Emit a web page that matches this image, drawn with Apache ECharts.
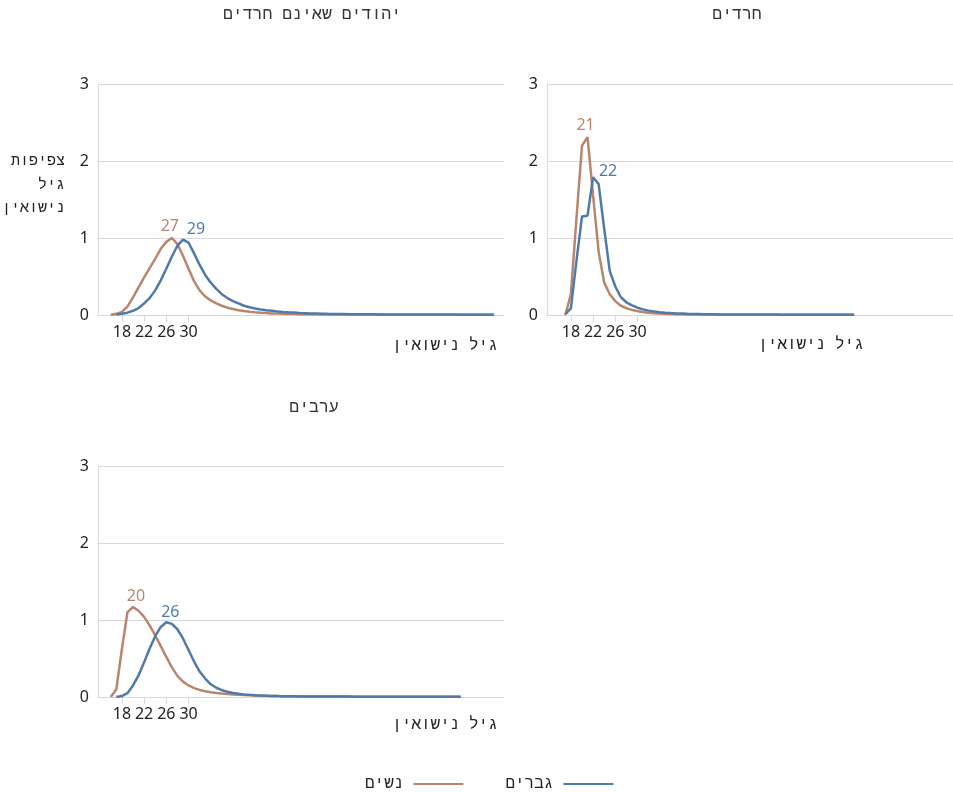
<!DOCTYPE html>
<html>
<head>
<meta charset="utf-8">
<script src="https://cdn.jsdelivr.net/npm/echarts@6/dist/echarts.min.js"></script>
<style>html,body{margin:0;padding:0;background:#fff}#c{width:953px;height:792px}</style>
</head>
<body>
<div id="c"></div>
<script>
// Panel titles
const panelTitles = ['יהודים שאינם חרדים', 'חרדים', 'ערבים'];
const seriesNames = ['נשים', 'גברים'];
const xTickValues = [18, 22, 26, 30];
const axisXName = 'גיל נישואין';
const axisYNameLines = ['צפיפות', 'גיל', 'נישואין'];

// Non-Haredi Jews: women from age 16, men from age 17
const jewsWomenStart = 16;
const jewsWomen = [0, 0.015, 0.04, 0.11, 0.23, 0.36, 0.49, 0.61, 0.73, 0.86, 0.95, 1.0, 0.92, 0.77, 0.6, 0.44, 0.32, 0.24, 0.19, 0.15,
  0.12, 0.095, 0.077, 0.063, 0.051, 0.042, 0.035, 0.029, 0.025, 0.021, 0.018, 0.016, 0.014, 0.012, 0.011, 0.010, 0.009, 0.009, 0.008, 0.008,
  0.007, 0.007, 0.006, 0.006, 0.006, 0.005, 0.005, 0.005, 0.005, 0.004, 0.004, 0.004, 0.004, 0.004, 0.003, 0.003, 0.003, 0.003, 0.003, 0.003,
  0.002, 0.002, 0.002, 0.002, 0.002, 0.002, 0.002, 0.002, 0.002, 0.002];
const jewsMenStart = 17;
const jewsMen = [0.005, 0.015, 0.03, 0.055, 0.09, 0.15, 0.22, 0.32, 0.45, 0.6, 0.76, 0.9, 0.98, 0.94, 0.8, 0.65, 0.52, 0.42, 0.34, 0.27,
  0.22, 0.18, 0.15, 0.12, 0.1, 0.085, 0.072, 0.062, 0.055, 0.047, 0.04, 0.035, 0.031, 0.027, 0.024, 0.021, 0.019, 0.017, 0.015, 0.014,
  0.013, 0.012, 0.011, 0.010, 0.010, 0.009, 0.009, 0.008, 0.008, 0.008, 0.007, 0.007, 0.007, 0.006, 0.006, 0.006, 0.006, 0.005, 0.005, 0.005,
  0.005, 0.005, 0.004, 0.004, 0.004, 0.004, 0.004, 0.004, 0.004];

// Haredim
const haredWomenStart = 17;
const haredWomen = [0, 0.27, 1.25, 2.2, 2.31, 1.55, 0.82, 0.42, 0.27, 0.18, 0.12, 0.088, 0.066, 0.05, 0.038, 0.029, 0.023, 0.018, 0.015, 0.012,
  0.010, 0.009, 0.008, 0.007, 0.006, 0.006, 0.005, 0.005, 0.004, 0.004, 0.004, 0.003, 0.003, 0.003, 0.003, 0.003, 0.002, 0.002, 0.002, 0.002,
  0.002, 0.002, 0.002, 0.002, 0.002, 0.002, 0.002, 0.002, 0.002, 0.002, 0.002, 0.002, 0.002];
const haredMenStart = 17;
const haredMen = [0.01, 0.085, 0.7, 1.28, 1.29, 1.79, 1.70, 1.12, 0.57, 0.37, 0.23, 0.165, 0.125, 0.095, 0.073, 0.057, 0.046, 0.037, 0.03, 0.025,
  0.021, 0.018, 0.015, 0.013, 0.012, 0.011, 0.010, 0.009, 0.008, 0.008, 0.007, 0.007, 0.006, 0.006, 0.006, 0.005, 0.005, 0.005, 0.005, 0.004,
  0.004, 0.004, 0.004, 0.004, 0.004, 0.004, 0.003, 0.003, 0.003, 0.003, 0.003, 0.003, 0.003];

// Arabs
const arabWomenStart = 16;
const arabWomen = [0, 0.1, 0.62, 1.1, 1.17, 1.12, 1.04, 0.93, 0.8, 0.66, 0.52, 0.385, 0.275, 0.2, 0.15, 0.115, 0.092, 0.075, 0.063, 0.053,
  0.045, 0.039, 0.033, 0.029, 0.025, 0.022, 0.019, 0.017, 0.015, 0.013, 0.012, 0.011, 0.010, 0.009, 0.008, 0.008, 0.007, 0.007, 0.006, 0.006,
  0.005, 0.005, 0.005, 0.004, 0.004, 0.004, 0.004, 0.003, 0.003, 0.003, 0.003, 0.003, 0.003, 0.002, 0.002, 0.002, 0.002, 0.002, 0.002, 0.002,
  0.002, 0.002, 0.002, 0.002];
const arabMenStart = 17;
const arabMen = [0, 0.012, 0.05, 0.15, 0.28, 0.45, 0.63, 0.79, 0.91, 0.97, 0.95, 0.88, 0.76, 0.61, 0.46, 0.33, 0.24, 0.165, 0.12, 0.088,
  0.068, 0.052, 0.042, 0.034, 0.028, 0.023, 0.019, 0.016, 0.014, 0.012, 0.011, 0.010, 0.009, 0.008, 0.008, 0.007, 0.007, 0.006, 0.006, 0.005,
  0.005, 0.005, 0.005, 0.004, 0.004, 0.004, 0.004, 0.004, 0.003, 0.003, 0.003, 0.003, 0.003, 0.003, 0.003, 0.003, 0.003, 0.003, 0.002, 0.002,
  0.002, 0.002, 0.002];

// Peak ages (labels)
const peakAges = { jewsWomen: 27, jewsMen: 29, haredWomen: 21, haredMen: 22, arabWomen: 20, arabMen: 26 };

const COLOR_W = '#b8866f';
const COLOR_M = '#4f7aab';
const FONT = '"Noto Sans", "DejaVu Sans", sans-serif';
const HEB = '"Liberation Mono", "DejaVu Sans Mono", monospace';
const GRID_C = '#d9d9d9';

function build(start, vals, peak, color, offset) {
  return vals.map((v, i) => {
    const age = start + i;
    if (age === peak) {
      return { value: [age, v], label: { show: true, position: 'top', distance: 4, offset: offset, formatter: String(peak), color: color, fontSize: 16, fontFamily: FONT } };
    }
    return [age, v];
  });
}

const grids = [
  { left: 98, top: 84, width: 406, height: 231 },
  { left: 547, top: 84, width: 406, height: 231 },
  { left: 98, top: 466, width: 406, height: 231 }
];

const xAxes = grids.map((g, i) => ({
  type: 'value', gridIndex: i, min: 13.7, max: 86.8,
  axisLine: { show: true, lineStyle: { color: GRID_C, width: 1 } },
  axisTick: { show: true, customValues: xTickValues, length: 7, lineStyle: { color: GRID_C } },
  axisLabel: { customValues: xTickValues, fontSize: 16, color: '#222', fontFamily: FONT, margin: 9 },
  splitLine: { show: false }
}));
const yAxes = grids.map((g, i) => ({
  type: 'value', gridIndex: i, min: 0, max: 3, interval: 1,
  axisLine: { show: true, lineStyle: { color: GRID_C, width: 1 } },
  axisTick: { show: false },
  axisLabel: { fontSize: 16, color: '#222', fontFamily: FONT, margin: 9 },
  splitLine: { show: true, lineStyle: { color: GRID_C, width: 1 } }
}));

function line(name, idx, data, color) {
  return { name: name, type: 'line', xAxisIndex: idx, yAxisIndex: idx, data: data, showSymbol: true, showAllSymbol: true, symbol: 'circle', symbolSize: 0,
    lineStyle: { color: color, width: 2.5 }, itemStyle: { color: color }, label: { show: false }, emphasis: { disabled: true }, animation: false, z: name === seriesNames[1] ? 3 : 2 };
}

const series = [
  line(seriesNames[0], 0, build(jewsWomenStart, jewsWomen, peakAges.jewsWomen, COLOR_W, [-2, 0]), COLOR_W),
  line(seriesNames[1], 0, build(jewsMenStart, jewsMen, peakAges.jewsMen, COLOR_M, [13, 2]), COLOR_M),
  line(seriesNames[0], 1, build(haredWomenStart, haredWomen, peakAges.haredWomen, COLOR_W, [-2, 0]), COLOR_W),
  line(seriesNames[1], 1, build(haredMenStart, haredMen, peakAges.haredMen, COLOR_M, [15, 6]), COLOR_M),
  line(seriesNames[0], 2, build(arabWomenStart, arabWomen, peakAges.arabWomen, COLOR_W, [3, 2]), COLOR_W),
  line(seriesNames[1], 2, build(arabMenStart, arabMen, peakAges.arabMen, COLOR_M, [4, 2]), COLOR_M)
];

function txt(s, x, y, align, size, color, family) {
  return { type: 'text', x: x, y: y, style: { text: s, textAlign: align, textVerticalAlign: 'middle', fontSize: size, fill: color, fontFamily: family || HEB } };
}

const graphics = [
  txt(panelTitles[0], 312, 15, 'center', 16.5, '#333'),
  txt(panelTitles[1], 737, 15, 'center', 16.5, '#333'),
  txt(panelTitles[2], 314, 408, 'center', 16.5, '#333'),
  txt(axisXName, 445, 346, 'center', 16, '#222'),
  txt(axisXName, 811, 345, 'center', 16, '#222'),
  txt(axisXName, 445, 725, 'center', 16, '#222'),
  txt(axisYNameLines[0], 65, 161.5, 'right', 15, '#222'),
  txt(axisYNameLines[1], 65, 185, 'right', 15, '#222'),
  txt(axisYNameLines[2], 65, 208.5, 'right', 15, '#222')
];

const chart = echarts.init(document.getElementById('c'), null, { renderer: 'canvas' });
chart.setOption({
  animation: false,
  backgroundColor: '#fff',
  grid: grids,
  xAxis: xAxes,
  yAxis: yAxes,
  legend: {
    data: [seriesNames[0], seriesNames[1]],
    left: 360, top: 771, align: 'right', itemGap: 42, itemWidth: 50, itemHeight: 2, icon: 'rect',
    textStyle: { fontSize: 16, color: '#222', fontFamily: HEB, padding: [0, 5, 0, 0] },
    selectedMode: false
  },
  series: series,
  graphic: graphics
});
</script>
</body>
</html>
